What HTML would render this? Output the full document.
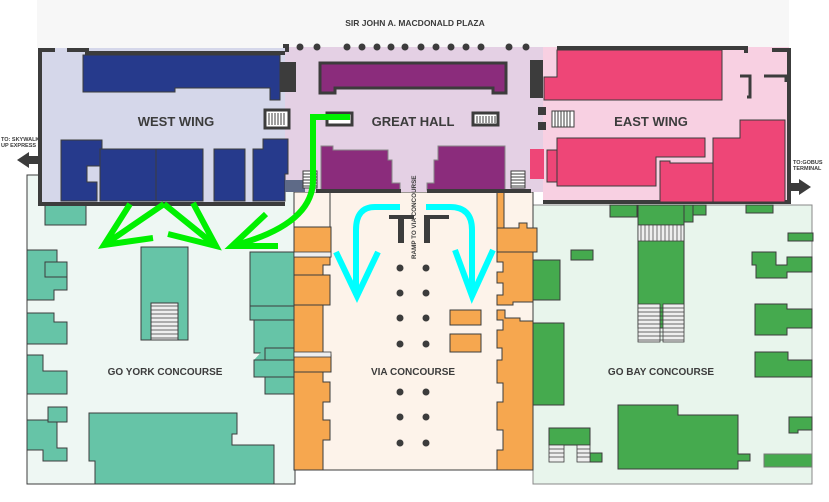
<!DOCTYPE html>
<html><head><meta charset="utf-8"><style>
html,body{margin:0;padding:0;background:#fff;}
svg{display:block;}
text{font-family:"Liberation Sans",sans-serif;font-weight:bold;fill:#3c3c3c;}
</style></head><body>
<svg width="829" height="502" viewBox="0 0 829 502" xmlns="http://www.w3.org/2000/svg">
<!-- plaza -->
<rect x="37" y="0" width="752" height="48" fill="#f7f7f7"/>
<text x="415" y="26" font-size="8.5" text-anchor="middle">SIR JOHN A. MACDONALD PLAZA</text>

<!-- concourse backgrounds -->
<rect x="27" y="175" width="268" height="309" fill="#eef7f3" stroke="#3c3c3c" stroke-width="1"/>
<rect x="533" y="205" width="279" height="279" fill="#e8f5ec" stroke="#888" stroke-width="1"/>
<rect x="294" y="192" width="239" height="278" fill="#fdf3ea" stroke="#3c3c3c" stroke-width="1"/>

<!-- GO York teal blocks -->
<g fill="#66c4a7" stroke="#3c3c3c" stroke-width="1">
<rect x="45" y="203" width="41" height="22"/>
<path d="M27 250 H57 V262 H67 V290 H54 V300 H27Z"/>
<rect x="45" y="262" width="22" height="15"/>
<path d="M27 313 H54 V322 H67 V344 H27Z"/>
<path d="M27 355 H43 V371 H67 V394 H27Z"/>
<path d="M27 420 H49 V407 H67 V422 H57 V448 H67 V461 H43 V450 H27Z"/>
<rect x="48" y="407" width="19" height="15"/>
<rect x="141" y="247" width="47" height="93"/>
<rect x="151" y="303" width="27" height="37" fill="#eee"/>
<path d="M89 413 H237 V434 H232 V445 H274 V484 H95 V461 H89Z"/>
<rect x="250" y="252" width="44" height="54"/>
<rect x="250" y="306" width="44" height="14"/>
<path d="M254 320 H294 V348 H265 V353 H254Z"/>
<path d="M265 348 H294 V377 H265Z"/>
<path d="M254 360 H265 V348 M254 360 H294"/>
<rect x="254" y="360" width="40" height="17"/>
<rect x="265" y="377" width="29" height="17"/>
</g>
<g stroke="#3c3c3c" stroke-width="0.8">
<line x1="151" y1="306" x2="178" y2="306"/><line x1="151" y1="310" x2="178" y2="310"/><line x1="151" y1="314" x2="178" y2="314"/><line x1="151" y1="318" x2="178" y2="318"/><line x1="151" y1="322" x2="178" y2="322"/><line x1="151" y1="326" x2="178" y2="326"/><line x1="151" y1="330" x2="178" y2="330"/><line x1="151" y1="334" x2="178" y2="334"/><line x1="151" y1="338" x2="178" y2="338"/>
</g>

<!-- VIA orange -->
<g fill="#f6a74f" stroke="#3c3c3c" stroke-width="1">
<path d="M330 192 V227 H294 V470 H323 V440 H330 V420 H323 V402 H330 V382 H323 V372 H330 V355 H323 V265 H330 V227"/>
<rect x="294" y="227" width="37" height="30"/>
<path d="M294 275 H330 V305 H294Z"/>
<rect x="294" y="355" width="37" height="17"/>
<rect x="497" y="192" width="7" height="48"/>
<path d="M497 228 H519 V223 H527 V228 H537 V252 H497Z"/>
<path d="M497 252 H533 V302 H513 V305 H497 V295 H503 V283 H497 V272 H503 V262 H497Z"/>
<path d="M497 310 H505 V318 H520 V321 H533 V470 H497 V450 H503 V430 H497 V402 H503 V383 H497 V360 H502 V348 H497 V330 H503 V320 H497Z"/>
<rect x="450" y="310" width="31" height="15"/>
<rect x="450" y="334" width="31" height="18"/>
</g>
<g fill="#eee" stroke="#3c3c3c" stroke-width="0.8">
<rect x="294" y="252" width="37" height="5"/>
<rect x="294" y="352" width="37" height="5"/>
</g>
<!-- dots -->
<g fill="#3c3c3c">
<circle cx="400" cy="268" r="3.5"/><circle cx="426" cy="268" r="3.5"/>
<circle cx="400" cy="293" r="3.5"/><circle cx="426" cy="293" r="3.5"/>
<circle cx="400" cy="318" r="3.5"/><circle cx="426" cy="318" r="3.5"/>
<circle cx="400" cy="344" r="3.5"/><circle cx="426" cy="344" r="3.5"/>
<circle cx="400" cy="392" r="3.5"/><circle cx="426" cy="392" r="3.5"/>
<circle cx="400" cy="417" r="3.5"/><circle cx="426" cy="417" r="3.5"/>
<circle cx="400" cy="443" r="3.5"/><circle cx="426" cy="443" r="3.5"/>
</g>

<!-- GO Bay green -->
<g fill="#45aa4e" stroke="#3c3c3c" stroke-width="1">
<rect x="610" y="205" width="27" height="12"/>
<rect x="638" y="205" width="46" height="20"/>
<rect x="684" y="205" width="9" height="17"/>
<rect x="693" y="205" width="13" height="10"/>
<rect x="746" y="205" width="27" height="8"/>
<rect x="788" y="233" width="25" height="8"/>
<rect x="638" y="225" width="46" height="103"/>
<rect x="533" y="260" width="27" height="40"/>
<rect x="533" y="323" width="31" height="82"/>
<rect x="571" y="250" width="22" height="10"/>
<path d="M752 252 H776 V265 H787 V257 H812 V272 H787 V278 H756 V265 H752Z"/>
<path d="M755 304 H787 V309 H812 V328 H787 V335 H755Z"/>
<path d="M755 352 H788 V360 H812 V377 H755Z"/>
<path d="M789 417 H812 V430 H798 V433 H789Z"/>
<path d="M618 405 H678 V415 H738 V454 H750 V461 H738 V469 H618Z"/>
<rect x="549" y="428" width="41" height="17"/>
<rect x="590" y="453" width="12" height="9"/>
<rect x="764" y="454" width="48" height="13" stroke="#777"/>
</g>
<g fill="#eee" stroke="#3c3c3c" stroke-width="0.8">
<rect x="638" y="304" width="22" height="38"/><rect x="663" y="304" width="21" height="38"/>
<rect x="549" y="445" width="15" height="17"/><rect x="577" y="445" width="13" height="17"/>
<rect x="638" y="225" width="46" height="16"/>
</g>
<g stroke="#3c3c3c" stroke-width="0.7">
<path d="M638 308H684M638 312H684M638 316H684M638 320H684M638 324H684M638 328H684M638 332H684M638 336H684M638 340H684"/>
<path d="M549 449H564M549 453H564M549 457H564M577 449H590M577 453H590M577 457H590"/>
<path d="M641 225V241M645 225V241M649 225V241M653 225V241M657 225V241M661 225V241M665 225V241M669 225V241M673 225V241M677 225V241M681 225V241"/>
</g>

<!-- Great Hall -->
<rect x="285" y="47" width="260" height="145" fill="#e4d0e4"/>
<g fill="#3c3c3c">
<rect x="283" y="44" width="6" height="8"/>
<circle cx="300" cy="47" r="3.5"/><circle cx="317" cy="47" r="3.5"/><circle cx="347" cy="47" r="3.5"/><circle cx="362" cy="47" r="3.5"/><circle cx="377" cy="47" r="3.5"/><circle cx="391" cy="47" r="3.5"/><circle cx="405" cy="47" r="3.5"/><circle cx="421" cy="47" r="3.5"/><circle cx="436" cy="47" r="3.5"/><circle cx="451" cy="47" r="3.5"/><circle cx="466" cy="47" r="3.5"/><circle cx="481" cy="47" r="3.5"/><circle cx="509" cy="47" r="3.5"/><circle cx="526" cy="47" r="3.5"/>
</g>
<path d="M320 63 H506 V93 H493 V88 H335 V93 H320Z" fill="#8b2c7c" stroke="#3c3c3c" stroke-width="3"/>
<path d="M321 146 H333 V150 H388 V160 H392 V183 H400 V190 H321Z" fill="#8b2c7c" stroke="#888" stroke-width="1"/>
<path d="M505 146 H438 V160 H434 V183 H427 V190 H505Z" fill="#8b2c7c" stroke="#888" stroke-width="1"/>
<rect x="316" y="189" width="85" height="4" fill="#3c3c3c"/>
<rect x="427" y="189" width="104" height="4" fill="#3c3c3c"/>
<text x="413" y="126" font-size="13" text-anchor="middle">GREAT HALL</text>
<rect x="327" y="113" width="25" height="12" fill="#fff" stroke="#3c3c3c" stroke-width="3"/>
<rect x="473" y="113" width="25" height="12" fill="#fff" stroke="#3c3c3c" stroke-width="3"/>
<path d="M477 116V123M480 116V123M483 116V123M486 116V123M489 116V123M492 116V123M495 116V123" stroke="#3c3c3c"/>
<rect x="511" y="171" width="14" height="17" fill="#fff" stroke="#3c3c3c"/>
<path d="M511 174H525M511 177H525M511 180H525M511 183H525M511 186H525" stroke="#3c3c3c"/>
<!-- ramp -->
<rect x="389" y="215" width="25" height="4" fill="#3c3c3c"/>
<rect x="398" y="215" width="6" height="28" fill="#3c3c3c"/>
<rect x="424" y="215" width="25" height="4" fill="#3c3c3c"/>
<rect x="424" y="215" width="6" height="28" fill="#3c3c3c"/>
<text x="0" y="0" font-size="6.3" transform="translate(416,259) rotate(-90)">RAMP TO VIA CONCOURSE</text>

<!-- West Wing -->
<rect x="38" y="48" width="247" height="156" fill="#d5d7ea"/>
<path d="M83 55 H280 V100 H270 V88 H175 V92 H83Z" fill="#263a8c" stroke="#3c3c3c" stroke-width="1"/>
<path d="M40 50 H55 M67 50 H87 V53 H285" stroke="#3c3c3c" stroke-width="4" fill="none"/>
<path d="M40 48 V204 H285" stroke="#3c3c3c" stroke-width="4" fill="none"/>
<rect x="280" y="62" width="16" height="30" fill="#3c3c3c"/>
<rect x="265" y="110" width="24" height="18" fill="#fff" stroke="#3c3c3c" stroke-width="3"/>
<path d="M269 113V125M272 113V125M275 113V125M278 113V125M281 113V125M284 113V125" stroke="#3c3c3c"/>
<g fill="#263a8c" stroke="#3c3c3c" stroke-width="1">
<path d="M61 140 H102 V166 H87 V182 H97 V201 H61Z"/>
<path d="M100 149 H157 V201 H100 V175 H100Z"/>
<rect x="156" y="149" width="47" height="52"/>
<rect x="214" y="149" width="31" height="52"/>
<path d="M253 149 H263 V139 H288 V174 H285 V201 H253Z"/>
</g>
<rect x="285" y="180" width="20" height="12" fill="#5e6a87"/>
<rect x="303" y="171" width="14" height="17" fill="#fff" stroke="#3c3c3c"/>
<path d="M303 174H317M303 177H317M303 180H317M303 183H317M303 186H317" stroke="#3c3c3c"/>
<text x="176" y="126" font-size="13" text-anchor="middle">WEST WING</text>
<!-- left exit -->
<text x="1" y="141" font-size="5.5">TO: SKYWALK</text>
<text x="1" y="147" font-size="5.5">UP EXPRESS</text>
<path d="M17 160 L29 152 V156 H38 V164 H29 V168Z" fill="#3c3c3c"/>

<!-- East Wing -->
<rect x="543" y="47" width="246" height="157" fill="#f8d0e2"/>
<path d="M557 48 H746 V53 M772 50 H789 V202 H543" stroke="#3c3c3c" stroke-width="4" fill="none"/>
<rect x="530" y="60" width="13" height="38" fill="#3c3c3c"/>
<rect x="538" y="107" width="8" height="8" fill="#3c3c3c"/><rect x="538" y="122" width="8" height="8" fill="#3c3c3c"/>
<g fill="#ee4677" stroke="#3c3c3c" stroke-width="1">
<path d="M557 50 H722 V100 H544 V77 H557Z"/>
<rect x="530" y="149" width="14" height="30" stroke="none"/>
<rect x="547" y="150" width="10" height="32"/>
<path d="M557 138 H705 V157 H656 V186 H557Z"/>
<path d="M660 161 H670 V163 H713 V202 H660Z"/>
<path d="M713 138 H740 V120 H785 V202 H713Z"/>
</g>
<rect x="552" y="111" width="22" height="16" fill="#fff" stroke="#3c3c3c"/>
<path d="M555 111V127M558 111V127M561 111V127M564 111V127M567 111V127M570 111V127" stroke="#3c3c3c"/>
<path d="M740 76 H750 V97 H747 M764 76 H786 V82" stroke="#3c3c3c" stroke-width="3" fill="none"/>
<text x="651" y="126" font-size="13" text-anchor="middle">EAST WING</text>
<text x="793" y="164" font-size="5.5">TO:GOBUS</text>
<text x="793" y="170" font-size="5.5">TERMINAL</text>
<path d="M811 187 L799 179 V183 H790 V191 H799 V195Z" fill="#3c3c3c"/>

<!-- concourse labels -->
<text x="165" y="375" font-size="10" text-anchor="middle">GO YORK CONCOURSE</text>
<text x="413" y="375" font-size="10" text-anchor="middle">VIA CONCOURSE</text>
<text x="661" y="375" font-size="10" text-anchor="middle">GO BAY CONCOURSE</text>

<!-- green arrows -->
<g stroke="#00f000" stroke-width="6" fill="none" stroke-linejoin="miter">
<path d="M130 204 L104 245 L153 238"/>
<path d="M164 204 L104 245"/>
<path d="M164 204 L216 246"/>
<path d="M193 203 L216 246 L168 234"/>
<path d="M350 117 H313 V180 Q313 225 232 246"/>
<path d="M266 214 L232 246 L278 246"/>
</g>
<!-- cyan arrows -->
<g stroke="#00ffff" stroke-width="6" fill="none">
<path d="M400 207 H375 Q356 207 356 230 V295"/>
<path d="M336 252 L357 296 L378 252"/>
<path d="M426 207 H450 Q472 207 472 230 V295"/>
<path d="M455 250 L472 296 L493 250"/>
</g>
</svg>
</body></html>
